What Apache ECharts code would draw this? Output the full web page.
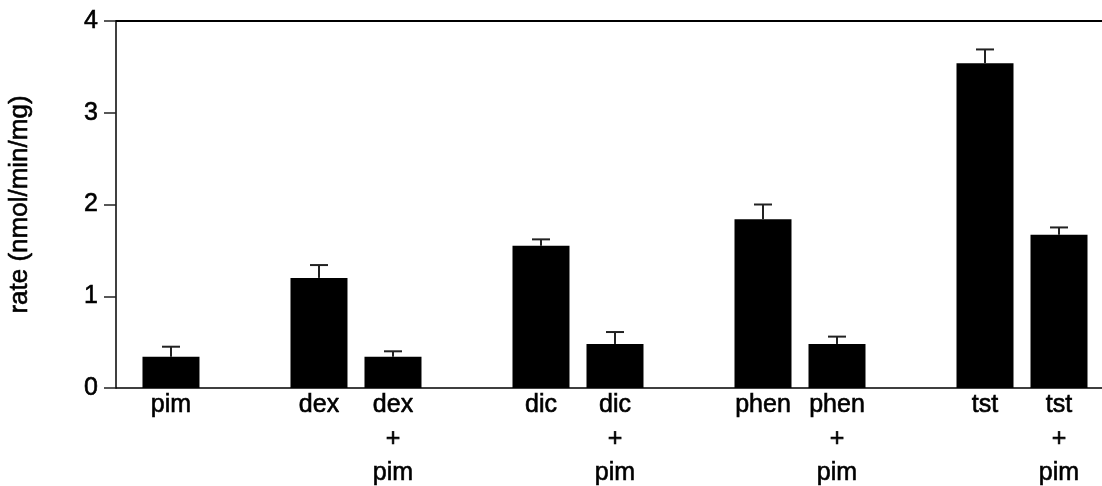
<!DOCTYPE html>
<html>
<head>
<meta charset="utf-8">
<title>rate (nmol/min/mg)</title>
<script src="https://cdn.jsdelivr.net/npm/echarts@6/dist/echarts.min.js"></script>
<style>
  html, body { margin: 0; padding: 0; background: #fff; }
  #chart { width: 1102px; height: 486px; }
</style>
</head>
<body>
<div id="chart"></div>
<script>
// Treatment groups in plotting order; empty strings are the spacers between groups.
const categories = ['pim', '', 'dex', 'dex\n+\npim', '', 'dic', 'dic\n+\npim', '', 'phen', 'phen\n+\npim', '', 'tst', 'tst\n+\npim'];
// Mean rate per treatment (null for spacers)
const rates = [0.34, null, 1.20, 0.34, null, 1.55, 0.48, null, 1.84, 0.48, null, 3.54, 1.67];
// Upper error (SEM) per treatment
const errors = [0.11, null, 0.14, 0.06, null, 0.07, 0.13, null, 0.16, 0.08, null, 0.15, 0.08];
// Y axis ticks
const yTicks = [0, 1, 2, 3, 4];

const barData = [];
const errData = [];
categories.forEach((c, i) => {
  if (rates[i] == null) return;
  barData.push({ value: [i, rates[i]], name: c });
  errData.push([i, rates[i], rates[i] + errors[i]]);
});

const FONT = '"Liberation Sans", Arial, Helvetica, sans-serif';
// a thin outline in the text colour gives the slightly heavier print weight
const TEXT = { fontFamily: FONT, color: '#000', textBorderColor: '#000', textBorderWidth: 0.6 };

const chart = echarts.init(document.getElementById('chart'), null, { renderer: 'canvas' });

const hiddenX = {
  type: 'value',
  min: -0.743,
  max: 12.581,
  axisTick: { show: false },
  axisLabel: { show: false },
  splitLine: { show: false }
};

chart.setOption({
  animation: false,
  backgroundColor: '#ffffff',
  grid: { left: 116, right: 0, top: 21, bottom: 98, containLabel: false, outerBoundsMode: 'none' },
  xAxis: [
    Object.assign({}, hiddenX, {
      position: 'bottom',
      axisLine: { show: true, onZero: false, lineStyle: { color: '#000', width: 1.5 } }
    }),
    Object.assign({}, hiddenX, {
      position: 'top',
      axisLine: { show: true, onZero: false, lineStyle: { color: '#000', width: 2 } }
    })
  ],
  yAxis: {
    type: 'value',
    min: yTicks[0],
    max: yTicks[yTicks.length - 1],
    interval: 1,
    name: 'rate (nmol/min/mg)',
    nameLocation: 'middle',
    nameGap: 83,
    nameTextStyle: Object.assign({}, TEXT, { fontSize: 26 }),
    axisLine: { show: true, onZero: false, lineStyle: { color: '#000', width: 1.5 } },
    axisTick: { show: true, inside: false, length: 12, lineStyle: { color: '#222', width: 1.5 } },
    axisLabel: Object.assign({}, TEXT, { fontSize: 25, margin: 18 }),
    splitLine: { show: false }
  },
  series: [
    {
      type: 'bar',
      xAxisIndex: 0,
      data: barData,
      barWidth: 57,
      itemStyle: { color: '#000' },
      label: Object.assign({}, TEXT, {
        show: true,
        position: 'bottom',
        distance: 0,
        formatter: p => p.name,
        fontSize: 25,
        lineHeight: 34
      }),
      z: 2
    },
    {
      type: 'custom',
      xAxisIndex: 0,
      data: errData,
      z: 3,
      renderItem: function (params, api) {
        const base = api.coord([api.value(0), api.value(1)]);
        const top = api.coord([api.value(0), api.value(2)]);
        const half = 9;
        const style = { stroke: '#222', lineWidth: 2 };
        return {
          type: 'group',
          children: [
            { type: 'line', shape: { x1: base[0], y1: base[1], x2: top[0], y2: top[1] }, style: style },
            { type: 'line', shape: { x1: top[0] - half, y1: top[1], x2: top[0] + half, y2: top[1] }, style: style }
          ]
        };
      }
    }
  ]
});
</script>
</body>
</html>
